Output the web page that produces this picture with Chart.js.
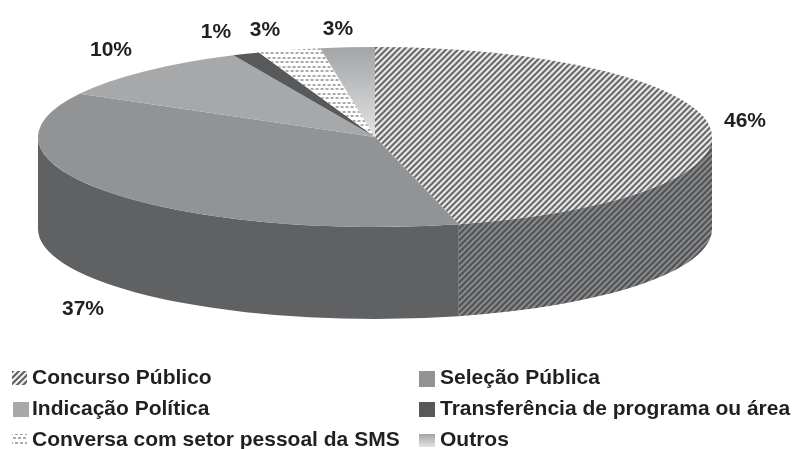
<!DOCTYPE html>
<html><head><meta charset="utf-8">
<style>html,body{margin:0;padding:0;background:#fff}#w{position:relative;width:793px;height:449px}canvas{display:block}</style>
<script src="https://cdn.jsdelivr.net/npm/chart.js@4"></script>
</head><body><div id="w"><canvas id="c" width="793" height="449"></canvas></div>
<script>
const categories = ["Concurso Público","Seleção Pública","Indicação Política","Transferência de programa ou área","Conversa com setor pessoal da SMS","Outros"];
const values = [46.0,37.0,10.1,1.3,3.0,2.6];
const percentLabels = ["46%","37%","10%","1%","3%","3%"];

// layout of the extruded ellipse
const RX = 337, RY = 90, DEPTH = 92, TEXT = "#231f20";
const labelPos = [[745,127],[83,315],[111,56],[216,38],[265,36],[338,35]];
const legendPos = [
 {sw:[12,371,15,14],x:32,y:384},{sw:[419,371,16,16],x:440,y:384},
 {sw:[13,402,16,15],x:32,y:415},{sw:[419,402,16,15],x:440,y:415},
 {sw:[12,434,15,12],x:32,y:446},{sw:[419,434,16,13],x:440,y:446}];

function stripes(bg, fg, p){
  const t=document.createElement('canvas');t.width=t.height=p;
  const g=t.getContext('2d');g.fillStyle=bg;g.fillRect(0,0,p,p);
  g.strokeStyle=fg;g.lineWidth=p*0.36;g.lineCap='square';
  [[-p,p,p,-p],[0,p,p,0],[0,2*p,2*p,0]].forEach(l=>{g.beginPath();g.moveTo(l[0],l[1]);g.lineTo(l[2],l[3]);g.stroke();});
  return t;
}
function dots(){
  const t=document.createElement('canvas');t.width=5;t.height=9;
  const g=t.getContext('2d');g.fillStyle='#fff';g.fillRect(0,0,5,9);
  g.fillStyle='#a8aaac';g.fillRect(0,1,3,2);g.fillRect(3,5,2,2);g.fillRect(0,5,1,2);
  return t;
}
const cv=document.getElementById('c'), cx=cv.getContext('2d');
const tiles={top:stripes('#f4f4f4','#606163',6),side:stripes('#8e8f91','#4e4f51',6),dot:dots()};
const mk=(tile,sx,sy)=>{const p=cx.createPattern(tile,'repeat');p.setTransform(new DOMMatrix([1/sx,0,0,1/sy,0,0]));return p;};

const R0=137, SX=RX/R0, SY=RY/R0;
const outrosGrad=cx.createLinearGradient(0,0,0,R0);
outrosGrad.addColorStop(0,'#a2a4a6');outrosGrad.addColorStop(1,'#e2e3e4');
const tops=[mk(tiles.top,SX,SY),'#919395','#a6a8aa','#58595b',mk(tiles.dot,SX,SY),outrosGrad];
const sides=[mk(tiles.side,SX,SY),'#5f6163','#6a6c6e','#3f4042','#77797b','#77797b'];

const pie3d={id:'pie3d',
  beforeDatasetsDraw(chart){
    const ctx=chart.ctx, arcs=chart.getDatasetMeta(0).data;
    const a0=arcs[0], d=DEPTH/SY;
    ctx.save();
    ctx.translate(a0.x,a0.y);ctx.scale(SX,SY);ctx.translate(-a0.x,-a0.y);
    arcs.forEach((a,i)=>{
      const s=Math.max(a.startAngle,0), e=Math.min(a.endAngle,Math.PI);
      if(e<=s) return;
      ctx.beginPath();
      ctx.arc(a.x,a.y,a.outerRadius,s,e);
      ctx.arc(a.x,a.y+d,a.outerRadius,e,s,true);
      ctx.closePath();
      ctx.fillStyle=sides[i];ctx.fill();
    });
    // the top surface is drawn by the library inside this transform
  },
  afterDatasetsDraw(chart){
    chart.ctx.restore();
    const ctx=chart.ctx;
    ctx.save();
    ctx.fillStyle=TEXT;ctx.textBaseline='alphabetic';
    ctx.font='bold 21px "Liberation Sans", Arial, sans-serif';
    ctx.textAlign='center';
    percentLabels.forEach((t,i)=>ctx.fillText(t,labelPos[i][0],labelPos[i][1]));
    ctx.textAlign='left';
    const swatch=[mk(tiles.top,1,1),'#919395','#a6a8aa','#58595b',mk(tiles.dot,1,1),null];
    categories.forEach((t,i)=>{
      const L=legendPos[i],[x,y,w,h]=L.sw;
      if(i===5){const g=ctx.createLinearGradient(0,y,0,y+h);g.addColorStop(0,'#a2a4a6');g.addColorStop(1,'#e2e3e4');ctx.fillStyle=g;}
      else ctx.fillStyle=swatch[i];
      ctx.fillRect(x,y,w,h);
      ctx.fillStyle=TEXT;
      ctx.fillText(t,L.x,L.y);
    });
    ctx.restore();
  }
};
new Chart(cv,{type:'pie',
  data:{labels:categories,datasets:[{data:values,backgroundColor:tops,borderWidth:0,clip:false}]},
  plugins:[pie3d],
  options:{responsive:false,animation:false,
    layout:{padding:{left:0,right:43,top:0,bottom:175}},
    plugins:{legend:{display:false},tooltip:{enabled:false}}}
});
</script></body></html>
